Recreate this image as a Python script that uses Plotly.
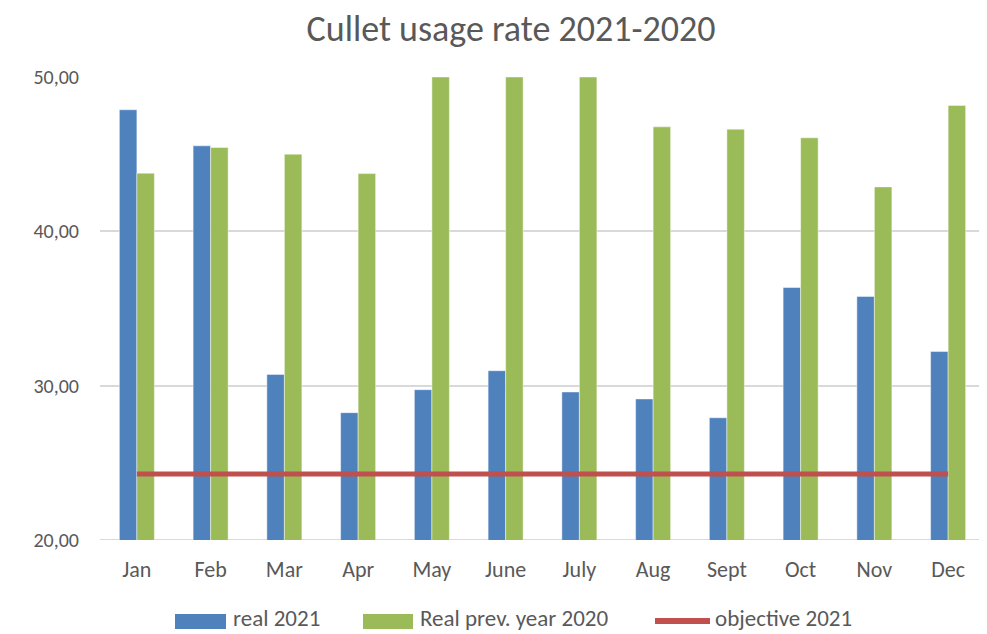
import plotly.graph_objects as go

months = ["Jan", "Feb", "Mar", "Apr", "May", "June", "July", "Aug", "Sept", "Oct", "Nov", "Dec"]
real_2021 = [47.88, 45.54, 30.73, 28.25, 29.74, 30.97, 29.59, 29.14, 27.92, 36.36, 35.78, 32.21]
real_2020 = [43.77, 45.43, 45.00, 43.74, 50.00, 50.00, 50.00, 46.77, 46.62, 46.06, 42.88, 48.16]
objective_2021 = [24.28] * 12
y_ticks = [20, 30, 40, 50]

FONT = "Carlito, Calibri, Lato, sans-serif"
GREY = "#595959"
BLUE, GREEN, RED = "#4F81BD", "#9BBB59", "#C0504D"

# the page body has an 8px margin, so the figure is drawn 8px right/down
OFF = 8
W, H = 987 - OFF, 634 - OFF
L, T = 100 - OFF, 77 - OFF
B = H - (540 - OFF)
R = W - (985 - OFF)
PW, PH = W - L - R, H - T - B

def px(x):
    return (x - OFF - L) / PW

def py(y):
    return (H - B - (y - OFF)) / PH

fig = go.Figure()
fig.add_trace(go.Bar(
    x=months, y=real_2021, name="real 2021",
    marker=dict(color=BLUE, line=dict(color="rgba(255,255,255,0.45)", width=1)),
))
fig.add_trace(go.Bar(
    x=months, y=real_2020, name="Real prev. year 2020",
    marker=dict(color=GREEN, line=dict(color="rgba(255,255,255,0.45)", width=1)),
))
fig.add_trace(go.Scatter(
    x=months, y=objective_2021, name="objective 2021", mode="lines",
    line=dict(color=RED, width=5),
))

fig.update_layout(
    width=W, height=H,
    paper_bgcolor="white", plot_bgcolor="white",
    separators=",.",
    margin=dict(l=L, r=R, t=T, b=B),
    title=dict(text="Cullet usage rate 2021-2020", x=(511 - OFF) / W, xanchor="center", xref="container",
               y=1 - (28 - OFF) / H, yanchor="middle", yref="container",
               font=dict(family=FONT, size=36, color=GREY)),
    barmode="group", bargap=0.525, bargroupgap=0,
    font=dict(family=FONT, color=GREY),
    showlegend=False,
    xaxis=dict(showgrid=False, showline=False, ticks="", automargin=False,
               ticklabelstandoff=14, tickfont=dict(size=22, color=GREY)),
    yaxis=dict(range=[20, 50], tickvals=y_ticks, tickformat=".2f", showgrid=True,
               gridcolor="#D9D9D9", gridwidth=1.5, zeroline=False, showline=False,
               automargin=False, ticks="", ticklen=0, ticklabelstandoff=20,
               tickfont=dict(size=20, color=GREY)),
)
fig.add_hline(y=20, line=dict(color="#D9D9D9", width=2), layer="below")

# custom legend matching the reference's wide swatches
legend_items = [
    ("rect", BLUE, 175, 226, 231, "real 2021"),
    ("rect", GREEN, 363, 413, 418, "Real prev. year 2020"),
    ("line", RED, 655, 710, 713, "objective 2021"),
]
for kind, color, x0, x1, tx, label in legend_items:
    if kind == "rect":
        fig.add_shape(type="rect", xref="paper", yref="paper",
                      x0=px(x0), x1=px(x1), y0=py(629), y1=py(614),
                      fillcolor=color, line=dict(width=0))
    else:
        fig.add_shape(type="line", xref="paper", yref="paper",
                      x0=px(x0), x1=px(x1), y0=py(621), y1=py(621),
                      line=dict(color=color, width=6))
    fig.add_annotation(text=label, xref="paper", yref="paper", x=px(tx), y=py(618),
                       xanchor="left", yanchor="middle", showarrow=False,
                       font=dict(family=FONT, size=23, color=GREY))

fig.write_html("out.html")
